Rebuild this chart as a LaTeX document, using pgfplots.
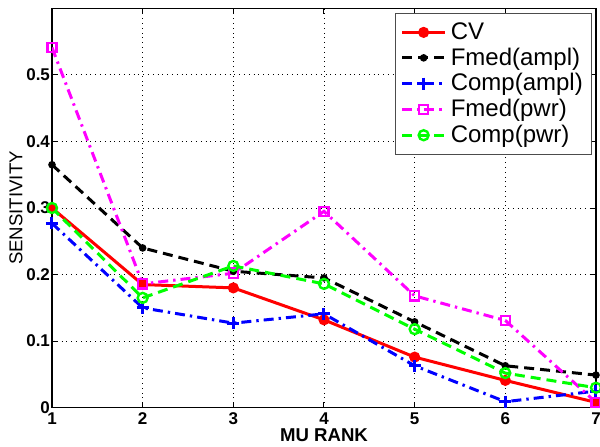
\documentclass[border=0pt]{standalone}
\usepackage{pgfplots}
\pgfplotsset{compat=1.18}
\usepackage{fontspec}
\setmainfont{Liberation Sans}
\definecolor{mgreen}{RGB}{0,255,0}
\definecolor{mmag}{RGB}{255,0,255}
\definecolor{mblue}{RGB}{0,0,255}
\definecolor{mred}{RGB}{255,0,0}
\begin{document}
\begin{tikzpicture}
\useasboundingbox (-26pt,-19.15pt) rectangle (274pt,203.85pt);
\begin{axis}[
  scale only axis,
  width=272pt, height=199.7pt,
  xmin=1, xmax=7, ymin=0, ymax=0.6,
  xtick={1,...,7},
  ytick={0,0.1,0.2,0.3,0.4,0.5},
  yticklabels={0,0.1,0.2,0.3,0.4,0.5},
  tick align=inside,
  tick style={black, line width=0.5pt},
  major tick length=3pt,
  axis line style={line width=0.7pt},
  grid=major,
  grid style={black, dotted, line width=0.4pt},
  ticklabel style={font=\fontsize{8.5}{9}\selectfont\bfseries},
  xticklabel style={yshift=1pt},
  yticklabel style={xshift=2.5pt},
  /pgf/number format/assume math mode=true,
  xlabel={\bfseries MU RANK},
  ylabel={SENSITIVITY},
  label style={font=\fontsize{9.3}{10}\selectfont},
  xlabel style={yshift=5pt},
  ylabel style={yshift=-5pt},
  legend style={at={(rel axis cs:0.993,0.988)}, anchor=north east,
    font=\fontsize{12}{13}\selectfont, draw=black!70, line width=0.4pt,
    row sep=-1.3pt, inner sep=2.5pt},
  legend cell align=left,
  legend image code/.code={%
    \draw[mark repeat=2,mark phase=2] plot coordinates {(0cm,0cm) (0.38cm,0cm) (0.76cm,0cm)};},
  every axis plot/.append style={line width=1.5pt},
]
\addplot[mred, solid, mark=*, mark size=2pt, mark options={solid}]
  coordinates {(1,0.300) (2,0.185) (3,0.180) (4,0.132) (5,0.076) (6,0.041) (7,0.008)};
\addlegendentry{CV}
\addplot[black, dash pattern=on 5pt off 3pt, mark=*, mark size=1.1pt, mark options={solid}]
  coordinates {(1,0.365) (2,0.240) (3,0.205) (4,0.195) (5,0.129) (6,0.063) (7,0.049)};
\addlegendentry{Fmed(ampl)}
\addplot[mblue, dash pattern=on 5pt off 2.5pt on 1.2pt off 2.5pt, mark=+, mark size=3pt, mark options={solid, line width=1.5pt}]
  coordinates {(1,0.277) (2,0.150) (3,0.127) (4,0.141) (5,0.063) (6,0.009) (7,0.025)};
\addlegendentry{Comp(ampl)}
\addplot[mmag, dash pattern=on 5pt off 2.5pt on 1.2pt off 2.5pt, mark=square, mark size=2.3pt, mark options={solid, line width=1.2pt}]
  coordinates {(1,0.541) (2,0.186) (3,0.202) (4,0.295) (5,0.168) (6,0.131) (7,0.008)};
\addlegendentry{Fmed(pwr)}
\addplot[mgreen, dash pattern=on 5pt off 3pt, mark=o, mark size=2.5pt, mark options={solid, line width=1.2pt}]
  coordinates {(1,0.300) (2,0.165) (3,0.213) (4,0.186) (5,0.118) (6,0.052) (7,0.030)};
\addlegendentry{Comp(pwr)}
\end{axis}
\end{tikzpicture}
\end{document}
